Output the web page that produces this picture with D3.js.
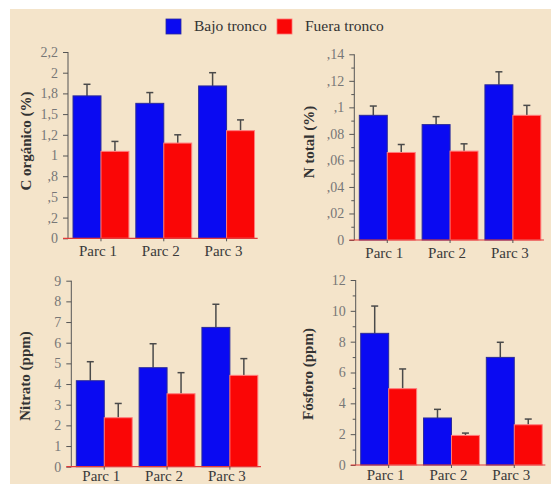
<!DOCTYPE html>
<html><head><meta charset="utf-8">
<script src="https://cdn.jsdelivr.net/npm/d3@7"></script>
<style>
html,body{margin:0;padding:0;background:#fff;}
svg{display:block;}
</style></head>
<body>
<script>
const categories = ["Parc 1", "Parc 2", "Parc 3"];
const seriesNames = ["Bajo tronco", "Fuera tronco"];

const cOrgBajo = [1.72, 1.63, 1.84];
const cOrgBajoErr = [0.14, 0.13, 0.16];
const cOrgFuera = [1.05, 1.15, 1.30];
const cOrgFueraErr = [0.12, 0.10, 0.13];
const cTicks = [0, 0.25, 0.5, 0.75, 1, 1.25, 1.5, 1.75, 2, 2.25];
const cTickLabels = ["0", ",2", ",5", ",8", "1", "1,2", "1,5", "1,8", "2", "2,2"];

const nBajo = [0.094, 0.087, 0.117];
const nBajoErr = [0.007, 0.006, 0.0098];
const nFuera = [0.066, 0.067, 0.094];
const nFueraErr = [0.006, 0.0055, 0.0075];
const nTicks = [0, 0.02, 0.04, 0.06, 0.08, 0.1, 0.12, 0.14];
const nTickLabels = ["0", ",02", ",04", ",06", ",08", ",1", ",12", ",14"];
const nMinorTicks = [0.01, 0.03, 0.05, 0.07, 0.09, 0.11, 0.13];

const nitBajo = [4.16, 4.79, 6.74];
const nitBajoErr = [0.92, 1.16, 1.12];
const nitFuera = [2.37, 3.53, 4.42];
const nitFueraErr = [0.69, 1.02, 0.81];
const nitTicks = [0, 1, 2, 3, 4, 5, 6, 7, 8, 9];
const nitTickLabels = ["0", "1", "2", "3", "4", "5", "6", "7", "8", "9"];

const fosBajo = [8.54, 3.05, 6.98];
const fosBajoErr = [1.77, 0.56, 0.98];
const fosFuera = [4.95, 1.92, 2.61];
const fosFueraErr = [1.28, 0.15, 0.37];
const fosTicks = [0, 2, 4, 6, 8, 10, 12];
const fosTickLabels = ["0", "2", "4", "6", "8", "10", "12"];
const fosMinorTicks = [1, 3, 5, 7, 9, 11];

const W = 551, H = 484;
const BLUE = "#0a0af2", RED = "#fa0606";
const FONT = "'Liberation Serif', 'Times New Roman', serif";

const svg = d3.select("body").append("svg").attr("width", W).attr("height", H);
svg.append("rect").attr("x", 10).attr("y", 9).attr("width", W - 10).attr("height", H - 9).attr("fill", "#f4e4ca");

// legend
const legend = [
  {name: seriesNames[0], color: BLUE, x: 166, tx: 194},
  {name: seriesNames[1], color: RED, x: 277, tx: 305}
];
legend.forEach(l => {
  svg.append("rect").attr("x", l.x).attr("y", 19).attr("width", 15).attr("height", 15)
    .attr("fill", l.color).attr("stroke", l.color === BLUE ? "#2a2a9a" : "#ff7070").attr("stroke-width", 0.8);
  svg.append("text").attr("x", l.tx).attr("y", 31).text(l.name)
    .attr("font-family", FONT).attr("font-size", 15.5).attr("fill", "#333");
});

const panels = [
  {axisX: 68, y0: 238.3, yTop: 52, max: 2.25, ticks: cTicks, labels: cTickLabels, minor: null,
   bajo: cOrgBajo, bajoErr: cOrgBajoErr, fuera: cOrgFuera, fueraErr: cOrgFueraErr,
   title: "C orgánico (%)", tx: 26, ty: 141, ly: 17.5},
  {axisX: 354.3, y0: 240, yTop: 54.3, max: 0.14, ticks: nTicks, labels: nTickLabels, minor: nMinorTicks,
   bajo: nBajo, bajoErr: nBajoErr, fuera: nFuera, fueraErr: nFueraErr,
   title: "N total (%)", tx: 309, ty: 142, ly: 17.5},
  {axisX: 71.3, y0: 466.7, yTop: 280.7, max: 9, ticks: nitTicks, labels: nitTickLabels, minor: null,
   bajo: nitBajo, bajoErr: nitBajoErr, fuera: nitFuera, fueraErr: nitFueraErr,
   title: "Nitrato (ppm)", tx: 25, ty: 376, ly: 14},
  {axisX: 355.7, y0: 465, yTop: 280, max: 12, ticks: fosTicks, labels: fosTickLabels, minor: fosMinorTicks,
   bajo: fosBajo, bajoErr: fosBajoErr, fuera: fosFuera, fueraErr: fosFueraErr,
   title: "Fósforo (ppm)", tx: 308, ty: 374, ly: 15}
];

panels.forEach(p => {
  const g = svg.append("g");
  const x = d3.scaleBand().domain(categories).range([p.axisX, p.axisX + 3.05 * 62.8])
    .paddingInner(0.11).paddingOuter(0.08);
  const xs = d3.scaleBand().domain(seriesNames).range([0, x.bandwidth()]);
  const y = d3.scaleLinear().domain([0, p.max]).range([p.y0, p.yTop]);

  const rows = categories.map((c, i) => [
    {cat: c, s: seriesNames[0], v: p.bajo[i], e: p.bajoErr[i], color: BLUE, stroke: "#2a2a9a"},
    {cat: c, s: seriesNames[1], v: p.fuera[i], e: p.fueraErr[i], color: RED, stroke: "#ff7c7c"}
  ]).flat();

  // error bars (behind bars)
  rows.forEach(r => {
    const cx = x(r.cat) + xs(r.s) + xs.bandwidth() / 2;
    g.append("line").attr("x1", cx).attr("x2", cx).attr("y1", y(r.v)).attr("y2", y(r.v + r.e))
      .attr("stroke", "#4a4a4a").attr("stroke-width", 1.5);
    g.append("line").attr("x1", cx - 3.5).attr("x2", cx + 3.5).attr("y1", y(r.v + r.e)).attr("y2", y(r.v + r.e))
      .attr("stroke", "#4a4a4a").attr("stroke-width", 1.5);
  });

  g.selectAll("rect.bar").data(rows).join("rect").attr("class", "bar")
    .attr("x", d => x(d.cat) + xs(d.s))
    .attr("width", xs.bandwidth())
    .attr("y", d => y(d.v))
    .attr("height", d => y(0) - y(d.v))
    .attr("fill", d => d.color)
    .attr("stroke", d => d.stroke).attr("stroke-width", 1);

  // y axis
  const ax = g.append("g").attr("transform", `translate(${p.axisX},0)`)
    .call(d3.axisLeft(y).tickValues(p.ticks).tickFormat((d, i) => p.labels[i]).tickSize(5).tickPadding(5));
  ax.select(".domain").attr("stroke", "#555").attr("d", `M-0,${y(p.max)}V${y(0)}`);
  ax.selectAll(".tick line").attr("stroke", "#555");
  ax.selectAll(".tick text").attr("font-family", FONT).attr("font-size", 14).attr("fill", "#777");
  if (p.minor) {
    const mx = g.append("g").attr("transform", `translate(${p.axisX},0)`)
      .call(d3.axisLeft(y).tickValues(p.minor).tickFormat("").tickSize(3));
    mx.select(".domain").remove();
    mx.selectAll(".tick line").attr("stroke", "#555");
  }

  // x axis
  const xa = g.append("g").attr("transform", `translate(0,${y(0)})`)
    .call(d3.axisBottom(x).tickSize(3).tickPadding(4));
  xa.select(".domain").attr("stroke", "#e23a3a").attr("stroke-width", 1.2)
    .attr("d", `M${p.axisX - 5},0H${x.range()[0] + x.step() * 3.02}`);
  xa.selectAll(".tick line").attr("stroke", "#555");
  xa.selectAll(".tick text").attr("font-family", FONT).attr("font-size", 15).attr("fill", "#3a3a3a")
    .attr("dy", null).attr("y", p.ly).attr("dx", -3);

  // title
  svg.append("text").attr("transform", `translate(${p.tx},${p.ty}) rotate(-90)`)
    .attr("text-anchor", "middle").attr("dy", "0.35em").text(p.title)
    .attr("font-family", FONT).attr("font-weight", "bold").attr("font-size", 15).attr("fill", "#333");
});
</script>
</body></html>
